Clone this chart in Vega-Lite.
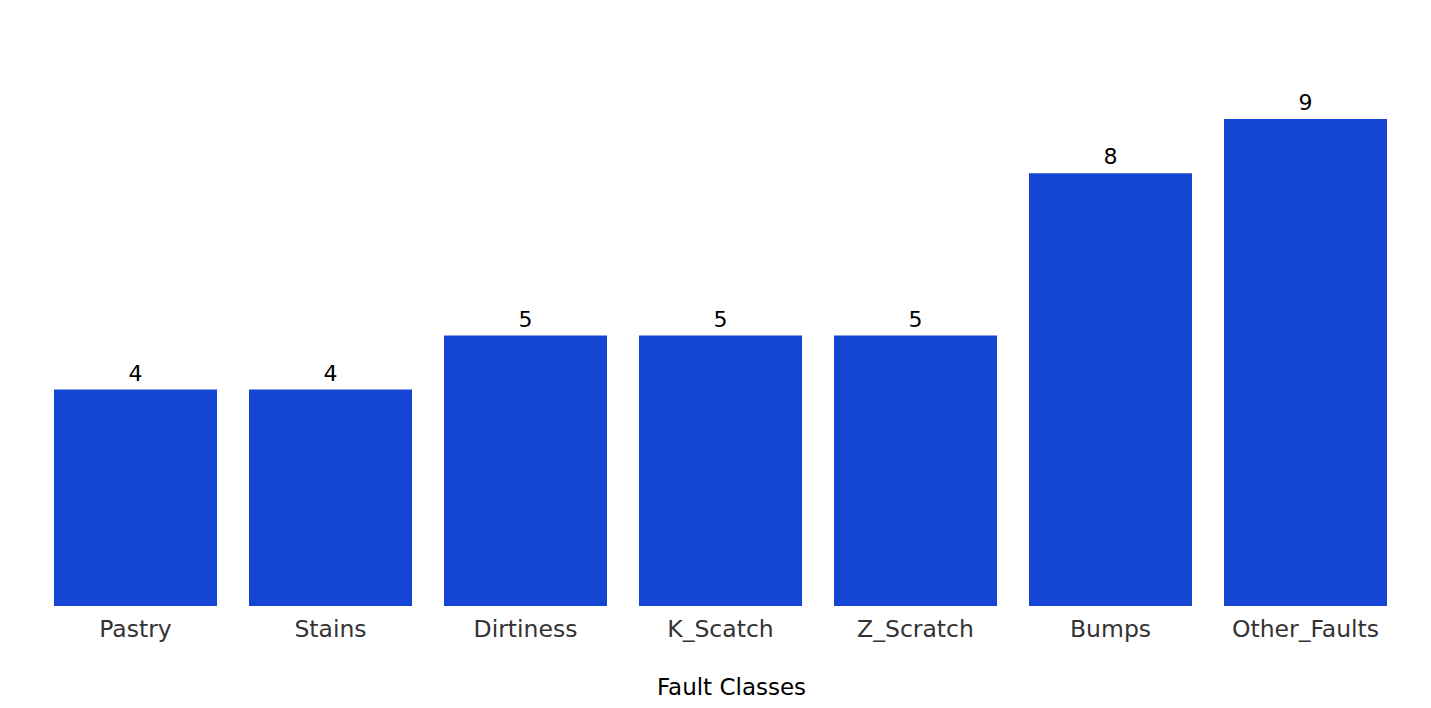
{
  "$schema": "https://vega.github.io/schema/vega-lite/v6.json",
  "width": 1365,
  "height": 541,
  "padding": {"left": 38, "top": 65, "right": 28, "bottom": 5},
  "background": "white",
  "config": {"view": {"stroke": null}, "font": "DejaVu Sans"},
  "data": {"values": [
    {"fault": "Pastry", "count": 4},
    {"fault": "Stains", "count": 4},
    {"fault": "Dirtiness", "count": 5},
    {"fault": "K_Scatch", "count": 5},
    {"fault": "Z_Scratch", "count": 5},
    {"fault": "Bumps", "count": 8},
    {"fault": "Other_Faults", "count": 9}
  ]},
  "encoding": {
    "x": {"field": "fault", "type": "nominal", "sort": null,
      "scale": {"paddingInner": 0.164, "paddingOuter": 0.082},
      "axis": {"title": "Fault Classes", "labelAngle": 0, "domain": false, "ticks": false,
        "labelFont": "DejaVu Sans", "labelFontSize": 23.5, "labelColor": "#333333", "labelPadding": 11,
        "titleFont": "DejaVu Sans", "titleFontSize": 23, "titleFontWeight": "normal", "titleColor": "#000000", "titlePadding": 36, "titleX": 693, "titleAlign": "center", "grid": false}},
    "y": {"field": "count", "type": "quantitative", "scale": {"domain": [0, 10]}, "axis": null}
  },
  "layer": [
    {"mark": {"type": "bar", "color": "#1446D3"}},
    {"mark": {"type": "text", "baseline": "bottom", "dy": -4, "fontSize": 22, "font": "DejaVu Sans", "color": "#000000"},
     "encoding": {"text": {"field": "count", "type": "quantitative"}}}
  ]
}
